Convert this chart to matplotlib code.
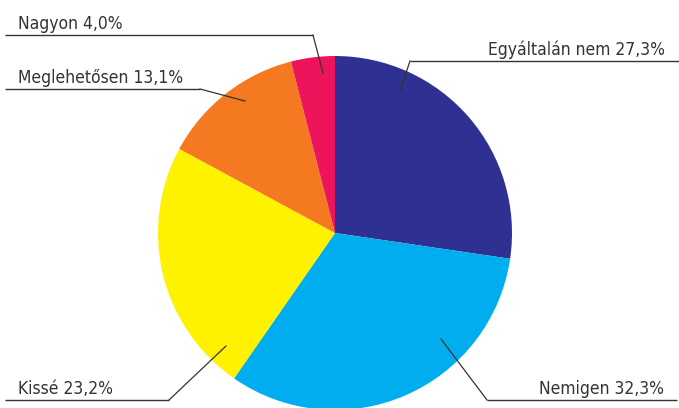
import matplotlib.pyplot as plt

plt.rcParams['font.family'] = ['DejaVu Sans']
plt.rcParams['font.stretch'] = 'condensed'

labels = ['Egyáltalán nem', 'Nemigen', 'Kissé', 'Meglehetősen', 'Nagyon']
values = [27.3, 32.3, 23.2, 13.1, 4.0]
colors = ['#2e3192', '#00aeef', '#fff200', '#f47920', '#ed145b']

W, H = 679, 408
fig = plt.figure(figsize=(W / 100, H / 100), dpi=100)
ax = fig.add_axes([0, 0, 1, 1])

cx, cy, r = 335, H - 233, 177
ax.pie(values, colors=colors, startangle=90, counterclock=False,
       center=(cx, cy), radius=r, frame=True,
       wedgeprops=dict(linewidth=0))
ax.set_xlim(0, W)
ax.set_ylim(0, H)
ax.set_aspect('equal')
ax.axis('off')

# label layout: (text x, align, underline x0, x1, underline y, tip x, tip y), pixel coords from top
layout = {
    'Egyáltalán nem': (665, 'right', 410, 679, 61, 400, 91),
    'Nemigen': (664, 'right', 487, 677, 400, 441, 339),
    'Kissé': (18, 'left', 5, 169, 400, 226, 346),
    'Meglehetősen': (18, 'left', 5, 200, 89, 245, 101),
    'Nagyon': (18, 'left', 5, 313, 35, 323, 73),
}

line_col = '#333333'
for lab, val in zip(labels, values):
    tx, ha, x0, x1, ly, px, py = layout[lab]
    corner = x0 if ha == 'right' else x1
    ax.plot([x0, x1], [H - ly, H - ly], color=line_col, lw=1.0, solid_capstyle='butt')
    ax.plot([corner, px], [H - ly, H - py], color=line_col, lw=0.9)
    txt = f'{lab} {val:.1f}%'.replace('.', ',')
    ax.text(tx, H - ly + 6, txt, ha=ha, va='baseline', fontsize=12.5,
            fontstretch='condensed', color='#333333')

fig.savefig('out.png', dpi=100)
